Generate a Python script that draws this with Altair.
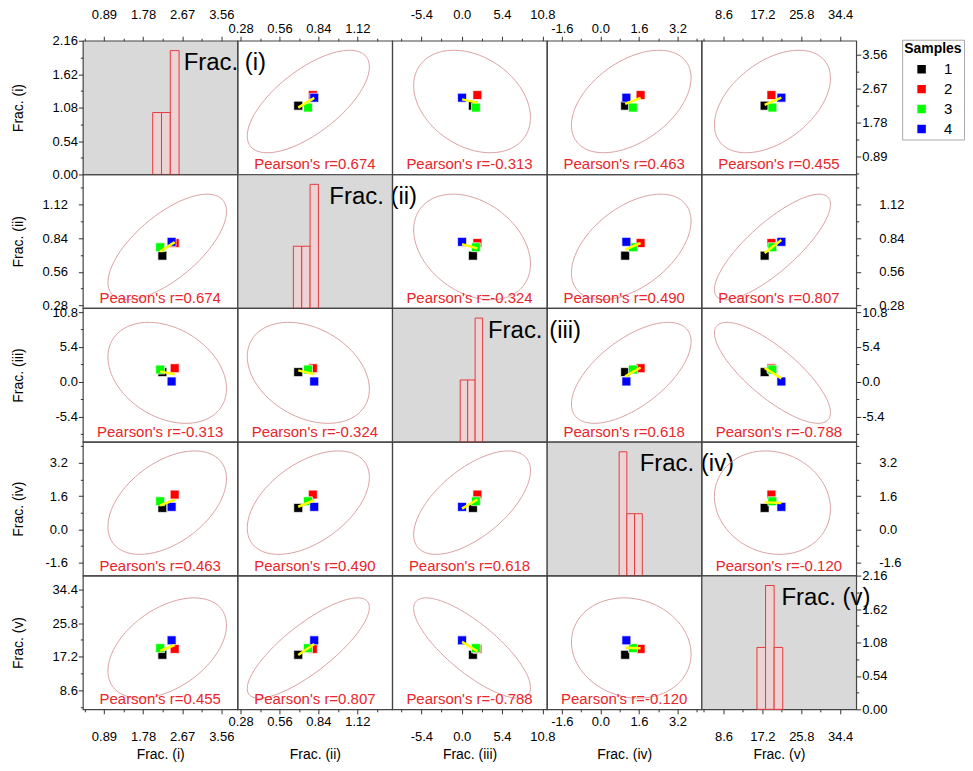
import math
import numpy as np
import pandas as pd
import altair as alt

FONT = "Liberation Sans"
var_names = ["Frac. (i)", "Frac. (ii)", "Frac. (iii)", "Frac. (iv)", "Frac. (v)"]
samples = ["1", "2", "3", "4"]
sample_colors = ["#000000", "#ff0000", "#00ff00", "#0000ff"]

# values of the five fractions for samples 1..4
frac_i = [2.22, 2.50, 2.17, 2.43]
frac_ii = [0.695, 0.80, 0.765, 0.81]
frac_iii = [1.5, 2.1, 1.9, 0.05]
frac_iv = [1.03, 1.67, 1.35, 1.08]
frac_v = [17.7, 19.2, 19.4, 21.4]
values = [frac_i, frac_ii, frac_iii, frac_iv, frac_v]

# Pearson's r printed in the panels (upper triangle, mirrored)
pair_rows = [0, 0, 0, 0, 1, 1, 1, 2, 2, 3]
pair_cols = [1, 2, 3, 4, 2, 3, 4, 3, 4, 4]
pearson_r = ["0.674", "-0.313", "0.463", "0.455", "-0.324", "0.490", "0.807", "0.618", "-0.788", "-0.120"]

# histograms on the diagonal
hist_edges_i = [2.0, 2.2, 2.4, 2.6]
hist_counts_i = [1, 1, 2]
hist_edges_ii = [0.66, 0.72, 0.78, 0.84]
hist_counts_ii = [1, 1, 2]
hist_edges_iii = [-0.2, 0.8, 1.8, 2.8]
hist_counts_iii = [1, 1, 2]
hist_edges_iv = [0.78, 1.10, 1.42, 1.74]
hist_counts_iv = [2, 1, 1]
hist_edges_v = [16.0, 17.9, 19.8, 21.7]
hist_counts_v = [1, 2, 1]
hist_edges = [hist_edges_i, hist_edges_ii, hist_edges_iii, hist_edges_iv, hist_edges_v]
hist_counts = [hist_counts_i, hist_counts_ii, hist_counts_iii, hist_counts_iv, hist_counts_v]

# axis ranges and ticks
domain_i = [0.41, 3.93]
domain_ii = [0.258, 1.371]
domain_iii = [-9.3, 11.4]
domain_iv = [-2.22, 4.2]
domain_v = [3.75, 37.95]
domains = [domain_i, domain_ii, domain_iii, domain_iv, domain_v]
domain_count = [0.0, 2.16]

ticks_i = [0.89, 1.78, 2.67, 3.56]
ticks_ii = [0.28, 0.56, 0.84, 1.12]
ticks_iii = [-5.4, 0.0, 5.4, 10.8]
ticks_iv = [-1.6, 0.0, 1.6, 3.2]
ticks_v = [8.6, 17.2, 25.8, 34.4]
ticks_count = [0.0, 0.54, 1.08, 1.62, 2.16]
minor_i = [0.445, 1.335, 2.225, 3.115]
minor_ii = [0.42, 0.70, 0.98, 1.26]
minor_iii = [-8.1, -2.7, 2.7, 8.1]
minor_iv = [-0.8, 0.8, 2.4, 4.0]
minor_v = [4.3, 12.9, 21.5, 30.1]
minor_count = [0.27, 0.81, 1.35, 1.89]
majors = [ticks_i, ticks_ii, ticks_iii, ticks_iv, ticks_v]
minors = [minor_i, minor_ii, minor_iii, minor_iv, minor_v]
decimals = [2, 2, 1, 1, 1]

W, H = 155, 134
TITLE_X = [101, 92, 96, 93, 80]   # left start of the big diagonal labels (px in panel)
N = len(samples)
# 95% prediction-ellipse radius (F(2, n-2) in closed form)
F95 = ((N - 2) / 2.0) * (0.05 ** (-2.0 / (N - 2)) - 1.0)
C_ELL = math.sqrt(2.0 * (N + 1) * (N - 1) / (N * (N - 2)) * F95)

BORDER = "#444444"
color_scale = alt.Scale(domain=samples, range=sample_colors)
legend = alt.Legend(
    title="Samples", orient="none", legendX=821, legendY=-1,
    titleFont=FONT, titleFontSize=14, titleFontWeight="bold", titleColor="black",
    labelFont=FONT, labelFontSize=15, labelColor="black",
    symbolType="square", symbolSize=100, strokeColor="#aaaaaa", fillColor="white",
    padding=2, rowPadding=3, labelOffset=15, symbolOffset=10, titlePadding=6,
)


def make_axis(orient, major, minor, dec, pad, title=None, extent=None, title_pad=None):
    arr = "[" + ",".join(repr(float(v)) for v in major) + "]"
    label_expr = (
        f"indexof({arr}, datum.value) < 0 ? '' : (datum.value < 0 ? '-' + "
        f"format(-datum.value, '.{dec}f') : format(datum.value, '.{dec}f'))"
    )
    kw = dict(
        orient=orient, values=sorted(major + minor), labelExpr=label_expr,
        tickSize={"condition": {"test": f"indexof({arr}, datum.value) < 0", "value": 2.5}, "value": 4.5},
        tickColor="#333333", tickWidth=1, domain=False, grid=False,
        labelPadding=pad, labelFont=FONT, labelFontSize=13, labelColor="black",
        labelFlush=False, labelOverlap=False,
    )
    if title is not None:
        kw.update(title=title, titleFont=FONT, titleFontSize=14, titleFontWeight="normal",
                  titleColor="black", titlePadding=title_pad)
    else:
        kw["title"] = None
    if extent is not None:
        kw.update(minExtent=extent, maxExtent=extent)
    return alt.Axis(**kw)


def x_axis_for(r, c):
    big = c % 2 == 0
    if r == 0:
        return make_axis("top", majors[c], minors[c], decimals[c], 14.5 if big else 1)
    if r == 4:
        return make_axis("bottom", majors[c], minors[c], decimals[c], 17 if big else 2,
                         title=var_names[c], extent=34, title_pad=4)
    return None


def y_axis_for(r, c, hist=False):
    big = r % 2 == 1
    mj, mn, dec = (ticks_count, minor_count, 2) if hist else (majors[r], minors[r], decimals[r])
    if c == 0:
        return make_axis("left", mj, mn, dec, 11 if big else 1, title=var_names[r], extent=45, title_pad=12)
    if c == 4:
        return make_axis("right", mj, mn, dec, 18 if big else 1)
    return None


def enc_x(field, r, c):
    ax = x_axis_for(r, c)
    return alt.X(field, scale=alt.Scale(domain=domains[c], nice=False, zero=False), axis=ax)


def enc_y(field, r, c, hist=False):
    ax = y_axis_for(r, c, hist)
    dom = domain_count if hist else domains[r]
    return alt.Y(field, scale=alt.Scale(domain=dom, nice=False, zero=False), axis=ax)


def r_for(r, c):
    for k in range(len(pair_rows)):
        if (pair_rows[k], pair_cols[k]) in [(r, c), (c, r)]:
            return pearson_r[k]
    return "0"


def scatter_panel(r, c):
    xs, ys = values[c], values[r]
    df = pd.DataFrame({"x": xs, "y": ys, "Sample": samples})
    rtxt = r_for(r, c)
    rr = float(rtxt)
    mx, my = float(np.mean(xs)), float(np.mean(ys))
    sx, sy = float(np.std(xs, ddof=1)), float(np.std(ys, ddof=1))
    t = np.linspace(0, 2 * math.pi, 145)
    edf = pd.DataFrame({
        "x": mx + C_ELL * sx * np.cos(t),
        "y": my + C_ELL * sy * (rr * np.cos(t) + math.sqrt(1 - rr * rr) * np.sin(t)),
        "k": np.arange(len(t)),
    })
    ell = alt.Chart(edf).mark_line(color="#d9a0a0", strokeWidth=1, clip=True).encode(
        x=enc_x("x:Q", r, c), y=enc_y("y:Q", r, c), order="k:Q")
    pts = alt.Chart(df).mark_square(size=80, opacity=1, stroke="white", strokeWidth=0.7).encode(
        x=enc_x("x:Q", r, c), y=enc_y("y:Q", r, c),
        color=alt.Color("Sample:N", scale=color_scale, legend=legend))
    reg = alt.Chart(df).transform_regression("x", "y").mark_line(
        color="#ffff00", strokeWidth=2.5).encode(x=enc_x("x:Q", r, c), y=enc_y("y:Q", r, c))
    tdf = pd.DataFrame({"label": [f"Pearson's r={rtxt}"]})
    txt = alt.Chart(tdf).mark_text(font=FONT, fontSize=15, color="#e8262b", baseline="middle").encode(
        text="label:N", x=alt.value(W / 2), y=alt.value(H - 10))
    return alt.layer(ell, pts, reg, txt).properties(
        width=W, height=H, view=alt.ViewBackground(stroke=BORDER, strokeWidth=1.2))


def diag_panel(i):
    e = hist_edges[i]
    hdf = pd.DataFrame({"x0": e[:-1], "x1": e[1:], "count": hist_counts[i]})
    bars = alt.Chart(hdf).mark_rect(fill="#ecd4d4", stroke="#e8383d", strokeWidth=1).encode(
        x=enc_x("x0:Q", i, i), x2="x1:Q", y=enc_y("count:Q", i, i, hist=True), y2=alt.datum(0))
    ldf = pd.DataFrame({"label": [var_names[i]]})
    lab = alt.Chart(ldf).mark_text(font=FONT, fontSize=24, color="black", align="left",
                                   baseline="middle").encode(
        x=alt.value(TITLE_X[i]), y=alt.value(22.5), text="label:N")
    return alt.layer(bars, lab).properties(
        width=W, height=H, view=alt.ViewBackground(fill="#d9d9d9", stroke=BORDER, strokeWidth=1.2))


cells = []
for r in range(5):
    for c in range(5):
        cells.append(diag_panel(r) if r == c else scatter_panel(r, c))

chart = alt.concat(*cells, columns=5, spacing=0, bounds="flush").properties(
    padding={"left": 3, "top": -1, "right": 0, "bottom": 0}
).configure(font=FONT).configure_view(stroke=BORDER, strokeWidth=1.2)

chart.save("out.html", embed_options={"renderer": "svg", "actions": False})
